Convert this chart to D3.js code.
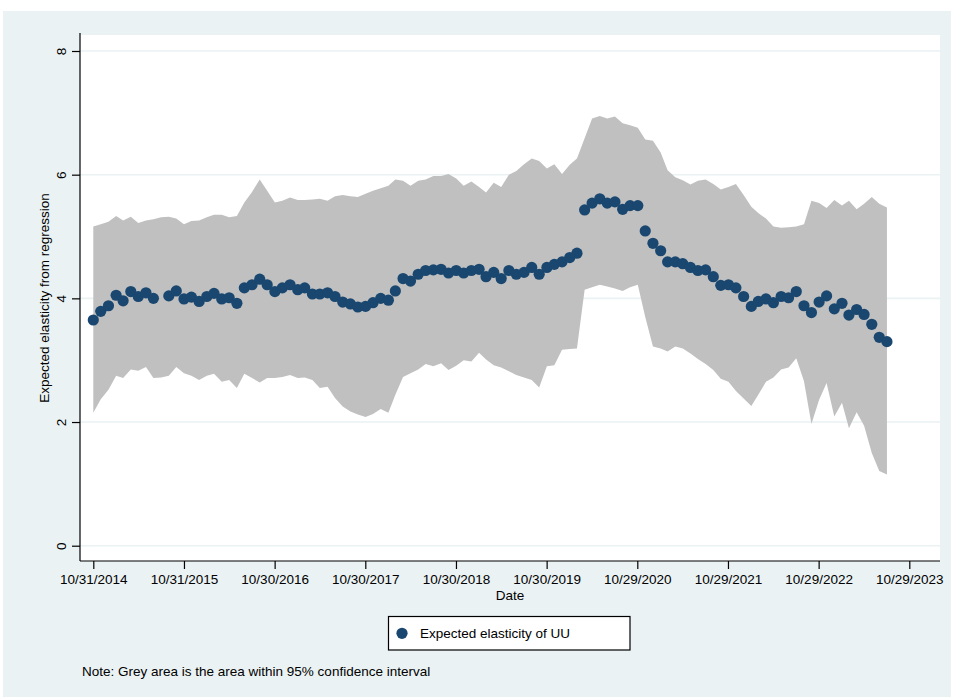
<!DOCTYPE html>
<html><head><meta charset="utf-8">
<script src="https://cdn.jsdelivr.net/npm/d3@7"></script>
<style>
body{margin:0;background:#fff}
svg{display:block;font-family:"Liberation Sans",Arial,Helvetica,sans-serif}
</style>
</head><body>
<svg id="chart" width="954" height="698"></svg>
<script>
// ---- data ----
const months = [
"2014-10","2014-11","2014-12",
"2015-01","2015-02","2015-03","2015-04","2015-05","2015-06","2015-07","2015-08","2015-09","2015-10","2015-11","2015-12",
"2016-01","2016-02","2016-03","2016-04","2016-05","2016-06","2016-07","2016-08","2016-09","2016-10","2016-11","2016-12",
"2017-01","2017-02","2017-03","2017-04","2017-05","2017-06","2017-07","2017-08","2017-09","2017-10","2017-11","2017-12",
"2018-01","2018-02","2018-03","2018-04","2018-05","2018-06","2018-07","2018-08","2018-09","2018-10","2018-11","2018-12",
"2019-01","2019-02","2019-03","2019-04","2019-05","2019-06","2019-07","2019-08","2019-09","2019-10","2019-11","2019-12",
"2020-01","2020-02","2020-03","2020-04","2020-05","2020-06","2020-07","2020-08","2020-09","2020-10","2020-11","2020-12",
"2021-01","2021-02","2021-03","2021-04","2021-05","2021-06","2021-07","2021-08","2021-09","2021-10","2021-11","2021-12",
"2022-01","2022-02","2022-03","2022-04","2022-05","2022-06","2022-07","2022-08","2022-09","2022-10","2022-11","2022-12",
"2023-01","2023-02","2023-03","2023-04","2023-05","2023-06","2023-07"
];
const elasticity = [
3.65,3.79,3.88,
4.05,3.96,4.11,4.03,4.09,4.00,null,4.04,4.12,3.99,4.02,3.95,
4.03,4.08,3.99,4.01,3.92,4.17,4.22,4.31,4.22,4.11,4.17,4.22,
4.14,4.17,4.07,4.07,4.09,4.03,3.94,3.91,3.86,3.87,3.93,4.00,
3.97,4.12,4.32,4.28,4.39,4.45,4.46,4.47,4.41,4.45,4.41,4.45,
4.47,4.35,4.42,4.32,4.45,4.39,4.42,4.50,4.39,4.50,4.55,4.59,
4.66,4.73,5.43,5.54,5.61,5.54,5.56,5.44,5.50,5.50,5.09,4.89,
4.77,4.59,4.59,4.56,4.50,4.45,4.46,4.35,4.21,4.22,4.17,4.03,
3.87,3.95,3.99,3.93,4.03,4.01,4.11,3.88,3.77,3.94,4.04,3.83,
3.92,3.73,3.82,3.74,3.58,3.37,3.30
];
const upper95 = [
5.16,5.20,5.24,
5.33,5.26,5.32,5.22,5.26,5.28,5.31,5.32,5.29,5.20,5.25,5.26,
5.31,5.35,5.35,5.31,5.33,5.55,5.72,5.92,5.74,5.55,5.58,5.63,
5.59,5.59,5.60,5.61,5.58,5.65,5.67,5.65,5.64,5.69,5.74,5.78,
5.82,5.92,5.90,5.82,5.90,5.92,5.98,5.98,6.01,5.94,5.82,5.89,
5.80,5.71,5.87,5.80,6.00,6.06,6.17,6.26,6.22,6.10,6.17,6.01,
6.16,6.26,6.59,6.91,6.95,6.91,6.94,6.83,6.80,6.76,6.57,6.55,
6.36,6.07,5.96,5.91,5.84,5.90,5.92,5.85,5.76,5.80,5.85,5.67,
5.48,5.38,5.29,5.16,5.14,5.15,5.16,5.20,5.58,5.54,5.46,5.59,
5.50,5.58,5.44,5.53,5.64,5.53,5.47
];
const lower95 = [
2.15,2.37,2.52,
2.75,2.71,2.85,2.83,2.89,2.71,2.72,2.75,2.89,2.79,2.75,2.68,
2.75,2.78,2.65,2.68,2.55,2.78,2.71,2.64,2.71,2.71,2.73,2.76,
2.71,2.72,2.68,2.55,2.57,2.39,2.25,2.17,2.12,2.08,2.13,2.21,
2.15,2.44,2.73,2.79,2.85,2.94,2.90,2.95,2.84,2.91,3.00,2.98,
3.12,3.01,2.92,2.88,2.82,2.76,2.72,2.68,2.56,2.90,2.92,3.17,
3.18,3.19,4.14,4.18,4.22,4.19,4.16,4.12,4.18,4.22,3.70,3.22,
3.19,3.14,3.22,3.19,3.11,3.02,2.94,2.84,2.70,2.65,2.50,2.38,
2.26,2.44,2.65,2.72,2.85,2.88,3.03,2.66,1.97,2.36,2.63,2.09,
2.31,1.90,2.16,1.94,1.50,1.21,1.15
];
const yTicks = [0, 2, 4, 6, 8];
const xTickLabels = ["10/31/2014","10/31/2015","10/30/2016","10/30/2017","10/30/2018",
                     "10/30/2019","10/29/2020","10/29/2021","10/29/2022","10/29/2023"];
const yTitle = "Expected elasticity from regression";
const xTitle = "Date";
const legendLabel = "Expected elasticity of UU";
const note = "Note: Grey area is the area within 95% confidence interval";

// ---- layout ----
const plot = {left: 80, right: 940, top: 35, bottom: 561};
const BG = "#eaf2f3", NAVY = "#1a476f", BAND = "#c0c0c0";
const FS = 13.5;
const FF = "Liberation Sans, Arial, sans-serif";

const parseMonth = d3.utcParse("%Y-%m");
const parseTick = d3.utcParse("%m/%d/%Y");
const monthEnd = m => d3.utcDay.offset(d3.utcMonth.offset(parseMonth(m), 1), -1);

const rows = months.map((m, i) => ({date: monthEnd(m), v: elasticity[i], hi: upper95[i], lo: lower95[i]}));
const tickDates = xTickLabels.map(parseTick);

const x = d3.scaleUtc()
  .domain([tickDates[0], tickDates[tickDates.length - 1]])
  .range([93.3, 909.3]);
const y = d3.scaleLinear().domain([0, 8]).range([545.7, 51]);

const svg = d3.select("#chart");

svg.append("rect").attr("x", 3).attr("y", 11).attr("width", 948).attr("height", 686).attr("fill", BG);
svg.append("rect").attr("x", plot.left).attr("y", plot.top)
  .attr("width", plot.right - plot.left).attr("height", plot.bottom - plot.top).attr("fill", "#fff");

svg.append("g").selectAll("line").data(yTicks).join("line")
  .attr("x1", plot.left).attr("x2", plot.right)
  .attr("y1", d => y(d)).attr("y2", d => y(d))
  .attr("stroke", BG).attr("stroke-width", 1.6);

const area = d3.area()
  .x(d => x(d.date))
  .y0(d => y(d.lo))
  .y1(d => y(d.hi));
svg.append("path").datum(rows).attr("d", area).attr("fill", BAND);

svg.append("g").selectAll("circle").data(rows.filter(d => d.v != null)).join("circle")
  .attr("cx", d => x(d.date)).attr("cy", d => y(d.v)).attr("r", 5.6)
  .attr("fill", NAVY);

// y axis
const yAxis = svg.append("g").attr("transform", `translate(${plot.left},0)`)
  .call(d3.axisLeft(y).tickValues(yTicks).tickSize(8).tickSizeOuter(0).tickFormat(d3.format("d")));
yAxis.select(".domain").remove();
yAxis.append("line").attr("x1", 0).attr("x2", 0).attr("y1", plot.top - 2).attr("y2", plot.bottom)
  .attr("stroke", "#000").attr("stroke-width", 1.2);
yAxis.selectAll(".tick line").attr("stroke", "#000").attr("stroke-width", 1.2);
yAxis.selectAll(".tick text")
  .attr("font-size", FS).attr("fill", "#000").attr("font-family", FF)
  .attr("x", null).attr("dy", null)
  .attr("text-anchor", "middle")
  .attr("transform", "translate(-14,0) rotate(-90)");

// x axis
const xAxis = svg.append("g").attr("transform", `translate(0,${plot.bottom})`)
  .call(d3.axisBottom(x).tickValues(tickDates).tickSize(8).tickSizeOuter(0)
    .tickFormat((d, i) => xTickLabels[i]));
xAxis.select(".domain").remove();
xAxis.append("line").attr("x1", plot.left).attr("x2", plot.right).attr("y1", 0).attr("y2", 0)
  .attr("stroke", "#000").attr("stroke-width", 1.2);
xAxis.selectAll(".tick line").attr("stroke", "#000").attr("stroke-width", 1.2);
xAxis.selectAll(".tick text")
  .attr("font-size", FS).attr("fill", "#000").attr("font-family", FF)
  .attr("y", 22.5).attr("dy", null);

// axis titles
svg.append("text").attr("transform", `translate(49,${(plot.top + plot.bottom) / 2}) rotate(-90)`)
  .attr("text-anchor", "middle").attr("font-size", FS).text(yTitle);
svg.append("text").attr("x", (plot.left + plot.right) / 2).attr("y", 600)
  .attr("text-anchor", "middle").attr("font-size", FS).text(xTitle);

// legend
const lg = svg.append("g");
lg.append("rect").attr("x", 388.5).attr("y", 616.5).attr("width", 241.5).attr("height", 33.5)
  .attr("fill", "#fff").attr("stroke", "#000").attr("stroke-width", 1.2);
lg.append("circle").attr("cx", 402).attr("cy", 633.3).attr("r", 5.6).attr("fill", NAVY);
lg.append("text").attr("x", 420).attr("y", 638).attr("font-size", FS).text(legendLabel);

// note
svg.append("text").attr("x", 82).attr("y", 676).attr("font-size", FS).text(note);
</script>
</body></html>
